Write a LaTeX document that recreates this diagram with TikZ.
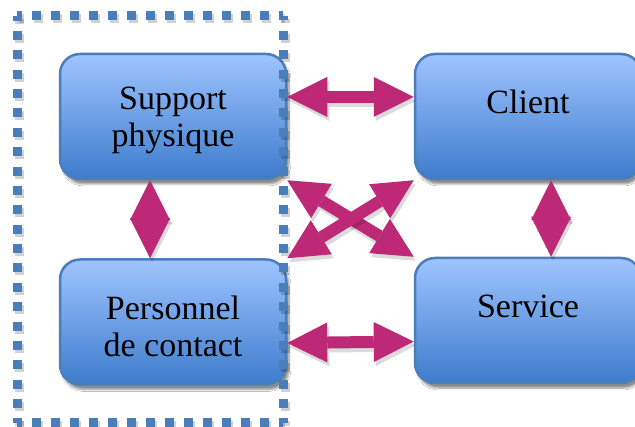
\documentclass[tikz,border=0pt]{standalone}
\usepackage{fontspec}
\setmainfont{Liberation Serif}
\usetikzlibrary{arrows.meta,shadows.blur}
\definecolor{boxtop}{RGB}{158,196,255}
\definecolor{boxbot}{RGB}{62,124,204}
\definecolor{boxline}{RGB}{74,126,187}
\definecolor{arrowc}{RGB}{189,41,119}
\begin{document}
\begin{tikzpicture}[x=1pt,y=-1pt,
  box/.style={rectangle, rounded corners=20pt, draw=boxline, line width=2.5pt,
    top color=boxtop, bottom color=boxbot, minimum width=226pt, minimum height=125pt,
    blur shadow={shadow xshift=3pt, shadow yshift=-5pt, shadow blur steps=8, shadow opacity=45}},
  boxtext/.style={align=center, font=\fontsize{34}{37}\selectfont, yshift=-4pt},
  link/.style={draw=arrowc, line width=12pt,
    {Triangle[length=40pt,width=40pt,line width=0pt]}-{Triangle[length=40pt,width=40pt,line width=0pt]}},
  linkshadow/.style={draw=black, opacity=0.14, line width=12pt,
    transform canvas={shift={(2pt,-4pt)}},
    {Triangle[length=40pt,width=40pt,line width=0pt]}-{Triangle[length=40pt,width=40pt,line width=0pt]}},
  frame/.style={draw=boxline, line width=9pt},
  frameshadow/.style={draw=black, opacity=0.18, line width=9pt, transform canvas={shift={(2pt,-3pt)}}}
]
\useasboundingbox (0,0) rectangle (635,427);
\fill[white] (0,0) rectangle (635,427);

\node[box, label={[boxtext]center:Support\\physique}] (support) at (173,116.5) {};
\node[box, label={[boxtext]center:Client\\\mbox{}}] (client) at (528,116.5) {};
\node[box, label={[boxtext]center:Personnel\\de contact}] (personnel) at (173,322) {};
\node[box, label={[boxtext]center:Service\\\mbox{}}] (service) at (528,320.5) {};

% frame shadow
\draw[frameshadow, dash pattern=on 9pt off 10pt, dash phase=4.5pt] (17,16) -- (283,16);
\draw[frameshadow, dash pattern=on 9pt off 10.38pt, dash phase=4.5pt] (283,16) -- (283,423);
\draw[frameshadow, dash pattern=on 9pt off 10pt, dash phase=4.5pt] (283,423) -- (17,423);
\draw[frameshadow, dash pattern=on 9pt off 10.38pt, dash phase=4.5pt] (17,423) -- (17,16);
% frame
\draw[frame, dash pattern=on 9pt off 10pt, dash phase=4.5pt] (17,16) -- (283,16);
\draw[frame, dash pattern=on 9pt off 10.38pt, dash phase=4.5pt] (283,16) -- (283,423);
\draw[frame, dash pattern=on 9pt off 10pt, dash phase=4.5pt] (283,423) -- (17,423);
\draw[frame, dash pattern=on 9pt off 10.38pt, dash phase=4.5pt] (17,423) -- (17,16);

% connectors
\draw[linkshadow] ([yshift=19.5pt]support.east) -- ([yshift=19.5pt]client.west);
\draw[link] ([yshift=19.5pt]support.east) -- ([yshift=19.5pt]client.west);
\draw[linkshadow] ([yshift=-21pt]personnel.east) -- ([yshift=-21pt]service.west);
\draw[link] ([yshift=-21pt]personnel.east) -- ([yshift=-21pt]service.west);
\draw[linkshadow] ([xshift=-23pt]support.south) -- ([xshift=-23pt]personnel.north);
\draw[link] ([xshift=-23pt]support.south) -- ([xshift=-23pt]personnel.north);
\draw[linkshadow] ([xshift=23pt]client.south) -- ([xshift=23pt]service.north);
\draw[link] ([xshift=23pt]client.south) -- ([xshift=23pt]service.north);
\draw[linkshadow] (support.south east) -- (service.north west);
\draw[link] (support.south east) -- (service.north west);
\draw[linkshadow] (personnel.north east) -- (client.south west);
\draw[link] (personnel.north east) -- (client.south west);
\end{tikzpicture}
\end{document}
